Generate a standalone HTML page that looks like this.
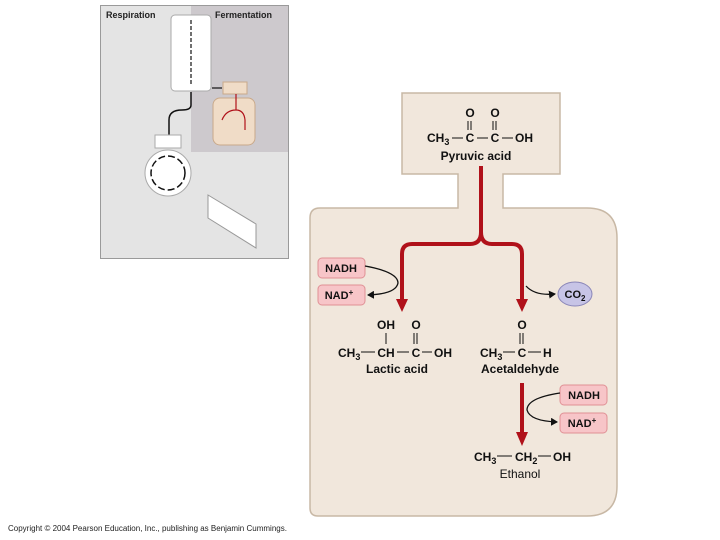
<!DOCTYPE html>
<html><head><style>body{margin:0;background:#fff}svg{display:block}text{font-family:"Liberation Sans",sans-serif}</style></head><body>
<svg width="720" height="540" viewBox="0 0 720 540" xmlns="http://www.w3.org/2000/svg">
<defs>
<marker id="ab" markerWidth="8" markerHeight="8" refX="6" refY="4" orient="auto" markerUnits="userSpaceOnUse"><path d="M0,0 L7,4 L0,8 z" fill="#111"/></marker>
<marker id="ar" markerWidth="14" markerHeight="14" refX="2" refY="6" orient="auto" markerUnits="userSpaceOnUse"><path d="M0,0 L12,6 L0,12 z" fill="#b0111a"/></marker>
</defs>
<!-- left thumbnail panel -->
<rect x="100.5" y="5.5" width="188" height="253" fill="#e4e4e4" stroke="#9a9a9a"/>
<rect x="191" y="6" width="97" height="146" fill="#cdc9cd"/>
<text x="106" y="18" font-size="9" font-weight="bold" fill="#222">Respiration</text>
<text x="215" y="18" font-size="9" font-weight="bold" fill="#222">Fermentation</text>
<rect x="171" y="15" width="40" height="76" rx="4" fill="#fff" stroke="#aaa"/>
<line x1="191" y1="20" x2="191" y2="86" stroke="#111" stroke-width="1.2" stroke-dasharray="4,2"/>
<path d="M212,88 L222,88" stroke="#111" stroke-width="1.2"/>
<rect x="223" y="82" width="24" height="12" fill="#f0dcc7" stroke="#c9a98a"/>
<rect x="213" y="98" width="42" height="47" rx="7" fill="#f0dcc7" stroke="#c9a98a"/>
<path d="M236,94 V110 M236,110 Q226,110 222,120 M236,110 Q244,110 245,120 V130" stroke="#b0111a" fill="none" stroke-width="1.2"/>
<path d="M191,92 V105 Q191,110 182,110 Q169,110 169,120 V135" stroke="#111" fill="none" stroke-width="1.5"/>
<rect x="155" y="135" width="26" height="13" fill="#fff" stroke="#aaa"/>
<circle cx="168" cy="173" r="23" fill="#fff" stroke="#aaa"/>
<circle cx="168" cy="173" r="17" fill="none" stroke="#111" stroke-width="1.5" stroke-dasharray="7,3"/>
<polygon points="208,195 256,224 256,248 208,218" fill="#fff" stroke="#999"/>
<!-- main fermentation diagram -->
<path d="M402,93 H560 V174 H503 V208 H587 Q617,208 617,238 V486 Q617,516 587,516 H318 Q310,516 310,508 V218 Q310,208 320,208 H458 V174 H402 Z" fill="#f1e7dc" stroke="#c8b8a5" stroke-width="1.5"/>
<g font-size="12" font-weight="bold" fill="#111">
<text x="470" y="117" text-anchor="middle">O</text><text x="495" y="117" text-anchor="middle">O</text>
<line x1="468" y1="121" x2="468" y2="130" stroke="#111"/><line x1="471" y1="121" x2="471" y2="130" stroke="#111"/>
<line x1="493" y1="121" x2="493" y2="130" stroke="#111"/><line x1="496" y1="121" x2="496" y2="130" stroke="#111"/>
<text x="427" y="142">CH<tspan font-size="9" dy="3">3</tspan></text>
<line x1="452" y1="138" x2="463" y2="138" stroke="#111"/>
<text x="470" y="142" text-anchor="middle">C</text>
<line x1="477" y1="138" x2="488" y2="138" stroke="#111"/>
<text x="495" y="142" text-anchor="middle">C</text>
<line x1="502" y1="138" x2="513" y2="138" stroke="#111"/>
<text x="515" y="142">OH</text>
<text x="476" y="160" text-anchor="middle">Pyruvic acid</text>
</g>
<!-- red arrows -->
<path d="M481,166 V232 Q481,244 470,244 H412 Q402,244 402,254 V300 M481,232 Q481,244 492,244 H512 Q522,244 522,254 V300" stroke="#b0111a" stroke-width="4" fill="none"/>
<polygon points="396,299 408,299 402,312" fill="#b0111a"/>
<polygon points="516,299 528,299 522,312" fill="#b0111a"/>
<line x1="522" y1="383" x2="522" y2="433" stroke="#b0111a" stroke-width="4"/>
<polygon points="516,432 528,432 522,446" fill="#b0111a"/>
<!-- NADH boxes -->
<g font-size="11" font-weight="bold" fill="#111">
<rect x="318" y="258" width="47" height="20" rx="4" fill="#f7c5c8" stroke="#e09095"/><text x="341" y="272" text-anchor="middle">NADH</text>
<rect x="318" y="285" width="47" height="20" rx="4" fill="#f7c5c8" stroke="#e09095"/><text x="339" y="299" text-anchor="middle">NAD<tspan font-size="8" dy="-4">+</tspan></text>
<rect x="560" y="385" width="47" height="20" rx="4" fill="#f7c5c8" stroke="#e09095"/><text x="584" y="399" text-anchor="middle">NADH</text>
<rect x="560" y="413" width="47" height="20" rx="4" fill="#f7c5c8" stroke="#e09095"/><text x="582" y="427" text-anchor="middle">NAD<tspan font-size="8" dy="-4">+</tspan></text>
<ellipse cx="575" cy="294" rx="17" ry="12" fill="#c7c4e6" stroke="#8a86b8"/><text x="575" y="298" text-anchor="middle">CO<tspan font-size="8" dy="3">2</tspan></text>
</g>
<path d="M365,266 Q398,272 398,283 Q396,294 368,295" stroke="#111" fill="none" stroke-width="1.3" marker-end="url(#ab)"/>
<path d="M526,286 Q535,296 555,294" stroke="#111" fill="none" stroke-width="1.3" marker-end="url(#ab)"/>
<path d="M560,393 Q527,398 527,410 Q530,421 557,422" stroke="#111" fill="none" stroke-width="1.3" marker-end="url(#ab)"/>
<!-- lactic acid -->
<g font-size="12" font-weight="bold" fill="#111">
<text x="386" y="329" text-anchor="middle">OH</text><text x="416" y="329" text-anchor="middle">O</text>
<line x1="386" y1="333" x2="386" y2="344" stroke="#111"/>
<line x1="414" y1="333" x2="414" y2="344" stroke="#111"/><line x1="417" y1="333" x2="417" y2="344" stroke="#111"/>
<text x="338" y="357">CH<tspan font-size="9" dy="3">3</tspan></text>
<line x1="361" y1="352" x2="375" y2="352" stroke="#111"/>
<text x="386" y="357" text-anchor="middle">CH</text>
<line x1="397" y1="352" x2="409" y2="352" stroke="#111"/>
<text x="416" y="357" text-anchor="middle">C</text>
<line x1="422" y1="352" x2="432" y2="352" stroke="#111"/>
<text x="434" y="357">OH</text>
<text x="397" y="373" text-anchor="middle">Lactic acid</text>
<!-- acetaldehyde -->
<text x="522" y="329" text-anchor="middle">O</text>
<line x1="520" y1="333" x2="520" y2="344" stroke="#111"/><line x1="523" y1="333" x2="523" y2="344" stroke="#111"/>
<text x="480" y="357">CH<tspan font-size="9" dy="3">3</tspan></text>
<line x1="503" y1="352" x2="515" y2="352" stroke="#111"/>
<text x="522" y="357" text-anchor="middle">C</text>
<line x1="528" y1="352" x2="541" y2="352" stroke="#111"/>
<text x="543" y="357">H</text>
<text x="520" y="373" text-anchor="middle">Acetaldehyde</text>
<!-- ethanol -->
<text x="474" y="461">CH<tspan font-size="9" dy="3">3</tspan></text>
<line x1="497" y1="456" x2="512" y2="456" stroke="#111"/>
<text x="515" y="461">CH<tspan font-size="9" dy="3">2</tspan></text>
<line x1="538" y1="456" x2="551" y2="456" stroke="#111"/>
<text x="553" y="461">OH</text>
<text x="520" y="478" text-anchor="middle" font-weight="normal">Ethanol</text>
</g>
<text x="8" y="531" font-size="8" fill="#222">Copyright © 2004 Pearson Education, Inc., publishing as Benjamin Cummings.</text>
</svg>
</body></html>
